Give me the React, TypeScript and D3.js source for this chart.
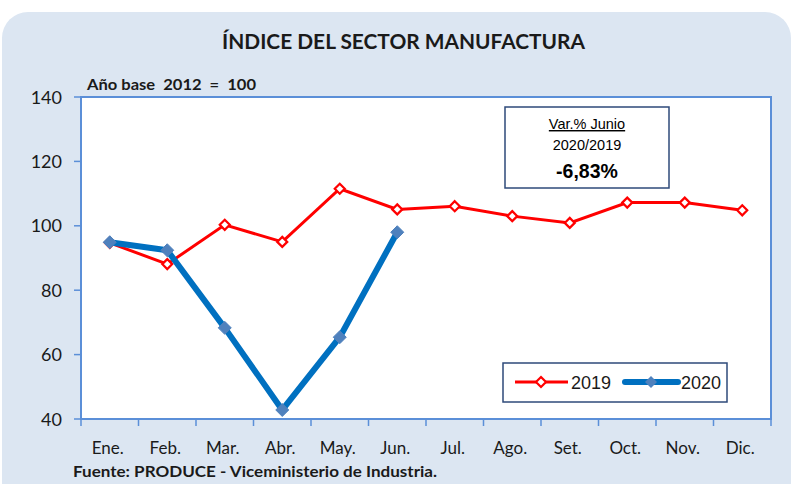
import React from "react";
import * as d3 from "d3";

const months = ["Ene.", "Feb.", "Mar.", "Abr.", "May.", "Jun.", "Jul.", "Ago.", "Set.", "Oct.", "Nov.", "Dic."];
const values2019 = [94.7, 88.1, 100.3, 95.0, 111.5, 105.1, 106.1, 103.0, 100.9, 107.2, 107.2, 104.8];
const values2020 = [94.9, 92.4, 68.3, 42.8, 65.4, 98.0];
const yTicks = [40, 60, 80, 100, 120, 140];

const W = 793, H = 484;
const L = 81, R = 771, T = 97, B = 419;
const font = "Lato, 'Open Sans', sans-serif";
const arial = "Arial, 'Liberation Sans', sans-serif";

export default function App() {
  const x = d3.scaleBand<string>().domain(months).range([L, R]);
  const y = d3.scaleLinear().domain([40, 140]).range([B, T]);
  const cx = (m: string) => (x(m) as number) + x.bandwidth() / 2;
  const line = d3.line<[string, number]>().x((d) => cx(d[0])).y((d) => y(d[1]));
  const d19 = months.map((m, i) => [m, values2019[i]] as [string, number]);
  const d20 = values2020.map((v, i) => [months[i], v] as [string, number]);
  const diamond = (px: number, py: number, r: number) =>
    `M${px},${py - r}L${px + r},${py}L${px},${py + r}L${px - r},${py}Z`;
  const axisCol = "#5b8fd8";

  return (
    <div style={{ position: "fixed", left: 0, top: 0 }}>
      <svg width={W} height={H} style={{ display: "block" }}>
        <rect x={0} y={0} width={W} height={H} fill="#ffffff" />
        <rect x={2} y={12} width={789} height={500} rx={26} fill="#dce6f2" />
        <text x={222} y={49} textLength={363} lengthAdjust="spacingAndGlyphs" fontFamily={font} fontWeight={700} fontSize={20} fill="#1a1a1a">
          ÍNDICE DEL SECTOR MANUFACTURA
        </text>
        <text x={87} y={90} textLength={169} lengthAdjust="spacingAndGlyphs" fontFamily={font} fontWeight={700} fontSize={15} fill="#1a1a1a" style={{ whiteSpace: "pre" }}>
          {"Año base  2012  =  100"}
        </text>
        <rect x={L} y={T} width={R - L} height={B - T} fill="#ffffff" stroke={axisCol} strokeWidth={2} />
        {yTicks.map((t) => (
          <g key={t}>
            <line x1={L - 7} x2={L} y1={y(t)} y2={y(t)} stroke={axisCol} strokeWidth={1.5} />
            <text x={62} y={y(t) + 6.5} textAnchor="end" fontFamily={font} fontSize={18} fill="#1a1a1a">
              {t}
            </text>
          </g>
        ))}
        {months.map((m, i) => (
          <g key={m}>
            <line x1={(x(m) as number)} x2={(x(m) as number)} y1={B} y2={B + 7} stroke={axisCol} strokeWidth={1.5} />
            {i === months.length - 1 && (
              <line x1={R} x2={R} y1={B} y2={B + 7} stroke={axisCol} strokeWidth={1.5} />
            )}
            <text x={cx(m) - 2} y={454} textAnchor="middle" fontFamily={font} fontSize={17} fill="#1a1a1a">
              {m}
            </text>
          </g>
        ))}
        <path d={line(d19) || ""} fill="none" stroke="#ff0000" strokeWidth={3} />
        {d19.map((d) => (
          <path key={"a" + d[0]} d={diamond(cx(d[0]), y(d[1]), 5)} fill="#ffffff" stroke="#ff0000" strokeWidth={2.2} />
        ))}
        <path d={line(d20) || ""} fill="none" stroke="#0070c0" strokeWidth={6} strokeLinejoin="round" />
        {d20.map((d) => (
          <path key={"b" + d[0]} d={diamond(cx(d[0]), y(d[1]), 6.5)} fill="#4f81bd" stroke="#4f81bd" strokeWidth={1} />
        ))}
        <rect x={505} y={107} width={164} height={81} fill="#ffffff" stroke="#2e4a7a" strokeWidth={1.5} />
        <text x={587} y={129} textAnchor="middle" fontFamily={arial} fontSize={14.5} fill="#000" textDecoration="underline">
          Var.% Junio
        </text>
        <text x={587} y={150} textAnchor="middle" fontFamily={arial} fontSize={14.5} fill="#000">
          2020/2019
        </text>
        <text x={587} y={178} textAnchor="middle" fontFamily={arial} fontWeight={700} fontSize={19.5} fill="#000">
          -6,83%
        </text>
        <rect x={503} y={363} width={224} height={39} fill="#ffffff" stroke="#2e4a7a" strokeWidth={1.5} />
        <line x1={515} x2={568} y1={382} y2={382} stroke="#ff0000" strokeWidth={3} />
        <path d={diamond(541, 382, 5)} fill="#ffffff" stroke="#ff0000" strokeWidth={2.2} />
        <text x={571} y={389} fontFamily={arial} fontSize={18} fill="#1a1a1a">2019</text>
        <line x1={625} x2={678} y1={382} y2={382} stroke="#0070c0" strokeWidth={6} strokeLinecap="round" />
        <path d={diamond(651, 382, 6)} fill="#4f81bd" />
        <text x={681} y={389} fontFamily={arial} fontSize={18} fill="#1a1a1a">2020</text>
        <text x={73} y={477} textLength={364} lengthAdjust="spacingAndGlyphs" fontFamily={font} fontWeight={700} fontSize={15} fill="#1a1a1a">
          Fuente: PRODUCE - Viceministerio de Industria.
        </text>
      </svg>
    </div>
  );
}
